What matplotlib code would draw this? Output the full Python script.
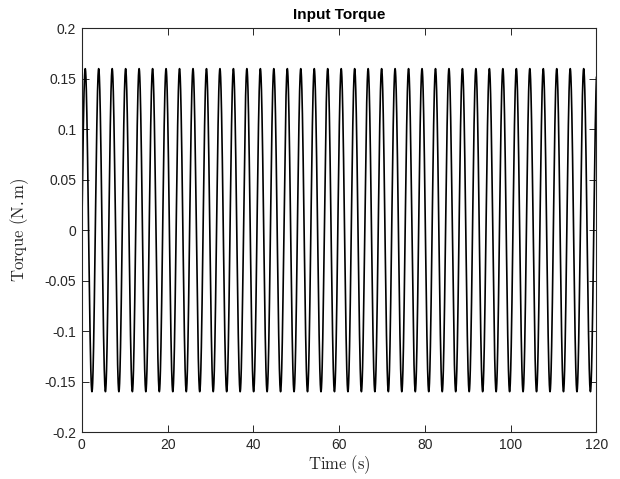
import numpy as np
import matplotlib
matplotlib.use("Agg")
import matplotlib.pyplot as plt

# Signal: sinusoid, peak 0.16 N.m, period ~pi s (omega = 2 rad/s)
amplitude = 0.16
omega = 2.0
t_start, t_end = 0.0, 120.0
n_samples = 24001

x_ticks = [0, 20, 40, 60, 80, 100, 120]
y_ticks = [-0.2, -0.15, -0.1, -0.05, 0, 0.05, 0.1, 0.15, 0.2]
y_tick_labels = ["-0.2", "-0.15", "-0.1", "-0.05", "0", "0.05", "0.1", "0.15", "0.2"]

t = np.linspace(t_start, t_end, n_samples)
torque = amplitude * np.sin(omega * t)

plt.rcParams['mathtext.fontset'] = 'cm'
plt.rcParams['font.family'] = ['Liberation Sans', 'DejaVu Sans']

fig = plt.figure(figsize=(6.2, 4.79), dpi=100)
ax = fig.add_axes([0.132, 0.098, 0.830, 0.843])
ax.plot(t, torque, color='black', lw=1.2)
ax.set_xlim(0, 120)
ax.set_ylim(-0.2, 0.2)
ax.set_xticks(x_ticks)
ax.set_yticks(y_ticks)
ax.set_yticklabels(y_tick_labels)

c = '#262626'
for s in ax.spines.values():
    s.set_color(c)
    s.set_linewidth(0.8)
ax.tick_params(direction='in', length=5, width=0.7, colors=c, labelsize=10,
               top=True, right=True, pad=4)
ax.set_xlabel(r'$\mathrm{Time\ (s)}$', fontsize=12, color=c, labelpad=1)
ax.set_ylabel(r'$\mathrm{Torque\ (N.m)}$', fontsize=12, color=c, labelpad=10)
ax.set_title('Input Torque', fontsize=11, fontweight='bold', color='black', pad=7)

fig.savefig('out.png', dpi=100)
